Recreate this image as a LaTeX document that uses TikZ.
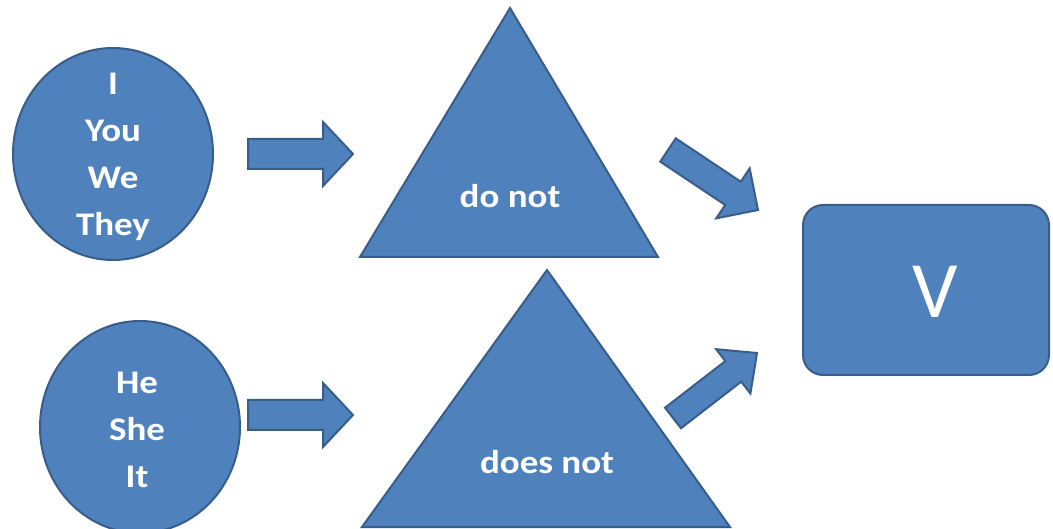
\documentclass[tikz,border=0pt]{standalone}
\usepackage{fontspec}
\setmainfont{Carlito}
\newfontfamily\labfont[FakeStretch=1.12]{Carlito}
\usetikzlibrary{calc,shapes.geometric}
\definecolor{boxfill}{HTML}{4F81BD}
\definecolor{boxline}{HTML}{385D8A}
\tikzset{
  shapestyle/.style={fill=boxfill,draw=boxline,line width=2pt,line join=miter},
  word/.style={text=white,font=\labfont\bfseries\fontsize{33}{47}\selectfont,align=center,inner sep=0pt},
  pron/.style={ellipse,shapestyle,minimum width=200pt,minimum height=212pt,inner sep=0pt},
}
\newcommand{\blockarrow}[5]{%
  \path[shapestyle] ($(#1)!#3!90:(#2)$) -- ($($(#2)!#5!(#1)$)!#3!-90:(#1)$)
    -- ($($(#2)!#5!(#1)$)!#4!-90:(#1)$) -- (#2)
    -- ($($(#2)!#5!(#1)$)!#4!90:(#1)$) -- ($($(#2)!#5!(#1)$)!#3!90:(#1)$)
    -- ($(#1)!#3!-90:(#2)$) -- cycle;}
\begin{document}
\begin{tikzpicture}[x=1pt,y=-1pt]
\useasboundingbox (0,0) rectangle (1053,529);
% pronoun circles
\node[pron] (c1) at (113,154) {};
\node[pron] (c2) at (140,427) {};
\node[word] (c1t) at (113,157) {I\\You\\We\\They};
\node[word] (c2t) at (137,430) {He\\She\\It};
% triangles
\coordinate (t1a) at (510,8); \coordinate (t1l) at (360,257); \coordinate (t1r) at (658,257);
\coordinate (t2a) at (547,270); \coordinate (t2l) at (362,527); \coordinate (t2r) at (730,527);
\path[shapestyle] (t1a) -- (t1l) -- (t1r) -- cycle;
\path[shapestyle] (t2a) -- (t2l) -- (t2r) -- cycle;
\node[word] (dn) at (510,196) {do not};
\node[word] (dsn) at (547,462) {does not};
% verb box
\node[shapestyle,rounded corners=20pt,minimum width=246pt,minimum height=170pt] (vb) at (926,290) {};
\node[text=white,font=\fontsize{80}{80}\selectfont,inner sep=0pt] (v) at (935,292) {V};
% arrows
\coordinate (a1s) at (248,154); \coordinate (a1e) at (353,154);
\coordinate (a2s) at (248,415); \coordinate (a2e) at (353,415);
\coordinate (a3s) at (668,150); \coordinate (a3e) at (758,210);
\coordinate (a4s) at (673,418); \coordinate (a4e) at (757,353);
\blockarrow{a1s}{a1e}{15pt}{32pt}{30pt}
\blockarrow{a2s}{a2e}{15pt}{32pt}{30pt}
\blockarrow{a3s}{a3e}{14pt}{30pt}{30pt}
\blockarrow{a4s}{a4e}{13pt}{28pt}{30pt}
\end{tikzpicture}
\end{document}
